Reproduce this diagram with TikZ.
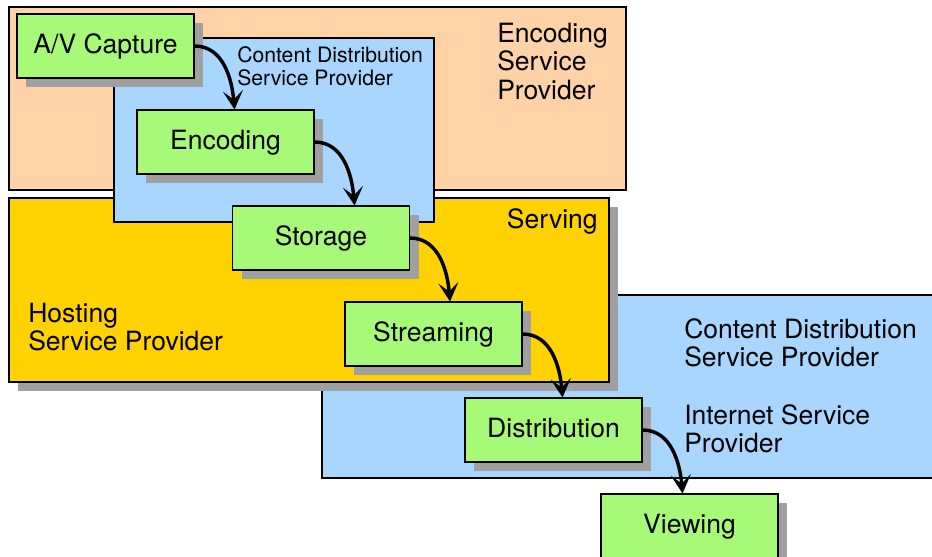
\documentclass[tikz,border=0pt]{standalone}
\usepackage{fontspec}
\setmainfont{TeX Gyre Heros}
\usetikzlibrary{arrows.meta,shadows}
\definecolor{peach}{RGB}{255,211,167}
\definecolor{skyblue}{RGB}{168,214,255}
\definecolor{gold}{RGB}{255,210,0}
\definecolor{boxgreen}{RGB}{166,250,120}
\definecolor{shadowgray}{RGB}{160,160,160}
\newcommand\lblfont{\fontsize{19.9}{21.4}\selectfont}
\newcommand\smlfont{\fontsize{15.9}{17.3}\selectfont}
\begin{document}
\begin{tikzpicture}[x=0.75pt,y=-0.75pt,
  region/.style={draw=black, line width=0.9pt},
  gbox/.style={draw=black, line width=0.8pt, fill=boxgreen,
    minimum width=132.75pt, minimum height=48pt, inner sep=0pt, font=\lblfont,
    text height=15.8pt, text depth=4pt,
    general shadow={fill=shadowgray, shadow xshift=6.75pt, shadow yshift=-6.75pt}},
  lbl/.style={inner sep=0pt, font=\lblfont},
  slbl/.style={inner sep=0pt, font=\smlfont},
  flow/.style={line width=2.6pt, -{Stealth[length=14pt,width=15pt,inset=6.5pt]}}]
\useasboundingbox (0,0) rectangle (932,557);
\fill[white] (0,0) rectangle (932,557);
% regions
\draw[region, fill=skyblue] (322,295) rectangle (940,478);
\fill[shadowgray] (18,207) rectangle (618,391);
\draw[region, fill=gold] (9,198) rectangle (609,382);
\draw[region, fill=peach] (9,7) rectangle (626,190);
\draw[region, fill=skyblue] (114,38) rectangle (434,222);
% region labels
\node[lbl, anchor=base west] (esp) at (497,42) {\begin{tabular}[t]{@{}l@{}}Encoding\\Service\\Provider\end{tabular}};
\node[slbl, anchor=base west] (cdsp1) at (237,62) {\begin{tabular}[t]{@{}l@{}}Content Distribution\\Service Provider\end{tabular}};
\node[lbl, anchor=base east] (serv) at (598,228) {Serving};
\node[lbl, anchor=base west] (hsp) at (28,322) {\begin{tabular}[t]{@{}l@{}}Hosting\\Service Provider\end{tabular}};
\node[lbl, anchor=base west] (cdsp2) at (684,338) {\begin{tabular}[t]{@{}l@{}}Content Distribution\\Service Provider\end{tabular}};
\node[lbl, anchor=base west] (isp) at (684,424) {\begin{tabular}[t]{@{}l@{}}Internet Service\\Provider\end{tabular}};
% process boxes
\node[gbox] (cap) at (105.5,46) {A/V Capture};
\node[gbox] (enc) at (225.5,142) {Encoding};
\node[gbox] (sto) at (321,238) {Storage};
\node[gbox] (str) at (433.5,334) {Streaming};
\node[gbox] (dis) at (553.5,430) {Distribution};
\node[gbox] (vie) at (689.5,526) {Viewing};
% flows
\draw[flow] (cap.east) to[out=0,in=95] ([xshift=30pt]enc.north -| cap.east);
\draw[flow] (enc.east) to[out=0,in=95] ([xshift=30pt]sto.north -| enc.east);
\draw[flow] (sto.east) to[out=0,in=95] ([xshift=30pt]str.north -| sto.east);
\draw[flow] (str.east) to[out=0,in=95] ([xshift=30pt]dis.north -| str.east);
\draw[flow] (dis.east) to[out=0,in=95] ([xshift=30pt]vie.north -| dis.east);
\end{tikzpicture}
\end{document}
